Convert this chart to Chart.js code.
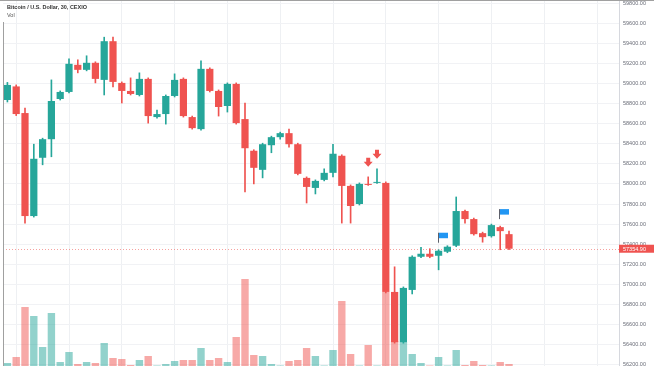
<!DOCTYPE html>
<html><head><meta charset="utf-8">
<script src="https://cdn.jsdelivr.net/npm/chart.js@4.4.0/dist/chart.umd.min.js"></script>
<style>html,body{margin:0;padding:0;background:#fff;}#wrap{width:654px;height:366px;position:relative;}</style>
</head><body><div id="wrap"><canvas id="c"></canvas></div>
<script>
const chartTitle = 'Bitcoin / U.S. Dollar, 30, CEXIO';
const volLabel = 'Vol';
const categories = ['08:30','09:00','09:30','10:00','10:30','11:00','11:30','12:00','12:30','13:00','13:30','14:00','14:30','15:00','15:30','16:00','16:30','17:00','17:30','18:00','18:30','19:00','19:30','20:00','20:30','21:00','21:30','22:00','22:30','23:00','23:30','00:00','00:30','01:00','01:30','02:00','02:30','03:00','03:30','04:00','04:30','05:00','05:30','06:00','06:30','07:00','07:30','08:00','08:30','09:00','09:30','10:00','10:30','11:00','11:30','12:00','12:30','13:00','13:30','14:00','14:30','15:00','15:30','16:00','16:30','17:00','17:30','18:00','18:30','19:00'];
const opens  = [58835,58970,58705,57680,58260,58445,58845,58915,59185,59135,59205,59035,59420,59005,58925,58885,59045,58665,58695,58875,59045,58665,58545,59145,58925,58775,58995,58645,58330,58140,58385,58465,58505,58395,58060,57960,58040,58110,58280,57980,57800,58000,58010,58010,56925,56425,56945,57275,57305,57285,57325,57385,57730,57650,57510,57480,57570,57500];
const highs  = [59010,58985,58755,58395,58455,59035,58925,59245,59235,59275,59215,59460,59460,59015,59055,59105,59055,58735,58885,59095,59055,58675,59225,59155,58935,59005,59005,58805,58340,58405,58475,58515,58545,58405,58070,58040,58150,58395,58290,57990,58010,58070,58150,58020,57175,56975,57285,57370,57355,57345,57385,57870,57740,57660,57520,57600,57580,57530];
const lows   = [58815,58680,57610,57670,58190,58270,58835,58905,59105,59125,59005,58885,58965,58805,58885,58875,58605,58655,58595,58865,58665,58545,58535,58915,58675,58715,58595,57920,58000,58060,58310,58445,58365,58090,57810,57900,58030,58070,57610,57610,57790,57985,58005,56915,56415,56415,56905,57265,57265,57145,57315,57375,57610,57490,57420,57470,57345,57345];
const closes = [58985,58695,57680,58250,58445,58825,58915,59195,59135,59205,59045,59420,59015,58925,58895,59045,58675,58695,58875,59035,58675,58555,59145,58925,58765,58995,58605,58355,58160,58395,58465,58505,58395,58100,57970,58030,58110,58300,57980,57780,58000,57990,58020,56925,56425,56965,57275,57305,57275,57335,57375,57730,57650,57500,57470,57590,57530,57354.9];
const volumes = [12,36,236,200,76,212,16,56,8,16,12,92,32,28,4,24,40,2,8,20,24,24,72,24,32,16,116,348,44,40,8,2,20,24,72,40,2,64,260,48,2,84,2,296,100,96,48,12,2,36,2,64,4,20,4,2,16,8];
const priceTicks = [56200,56400,56600,56800,57000,57200,57400,57600,57800,58000,58200,58400,58600,58800,59000,59200,59400,59600,59800];
const sellSignals = [41,42];
const flagSignals = [49,56];

const UP='#26a69a', DOWN='#ef5350', UPV='rgba(38,166,154,0.5)', DOWNV='rgba(239,83,80,0.5)';
const nC = opens.length;
const isUp = categories.map((_,i)=> i<nC ? closes[i]>=opens[i] : true);
const wickData = categories.map((_,i)=> i<nC ? [lows[i], highs[i]] : null);
const bodyData = categories.map((_,i)=> i<nC ? [Math.min(opens[i],closes[i]), Math.max(opens[i],closes[i])] : null);
const volData = categories.map((_,i)=> i<nC ? volumes[i] : null);
const candleColors = isUp.map(u=>u?UP:DOWN);
const volColors = isUp.map(u=>u?UPV:DOWNV);
const lastClose = closes[nC-1];
const FONT = '"Liberation Sans", Arial, sans-serif';

const overlay = {
  id:'overlay',
  beforeDatasetsDraw(chart){
    const {ctx, chartArea:a, scales:{y}} = chart;
    const py = Math.round(y.getPixelForValue(lastClose))+0.5;
    ctx.save();
    ctx.strokeStyle='rgba(239,83,80,0.55)'; ctx.lineWidth=1; ctx.setLineDash([1,2]);
    ctx.beginPath(); ctx.moveTo(a.left,py); ctx.lineTo(a.right,py); ctx.stroke();
    ctx.restore();
  },
  afterDraw(chart){
    const {ctx, chartArea:a, scales:{x,y}, width} = chart;
    ctx.save();
    ctx.fillStyle = DOWN;
    sellSignals.forEach(i=>{
      const cx = x.getPixelForValue(i);
      const tip = y.getPixelForValue(highs[i]) - 10;
      ctx.beginPath();
      ctx.moveTo(cx, tip);
      ctx.lineTo(cx-4.5, tip-5);
      ctx.lineTo(cx-2, tip-5);
      ctx.lineTo(cx-2, tip-9);
      ctx.lineTo(cx+2, tip-9);
      ctx.lineTo(cx+2, tip-5);
      ctx.lineTo(cx+4.5, tip-5);
      ctx.closePath(); ctx.fill();
    });
    flagSignals.forEach(i=>{
      const cx = Math.round(x.getPixelForValue(i)) - 0.5;
      const yb = y.getPixelForValue(highs[i]) - 7;
      ctx.strokeStyle='#5d606b'; ctx.lineWidth=1;
      ctx.beginPath(); ctx.moveTo(cx, yb); ctx.lineTo(cx, yb-10); ctx.stroke();
      ctx.fillStyle='#2196f3';
      ctx.fillRect(cx+0.5, yb-10, 9, 5.5);
    });
    const py = y.getPixelForValue(lastClose);
    ctx.fillStyle = DOWN;
    ctx.fillRect(a.right, py-4, width-a.right, 8);
    ctx.fillStyle = '#fff';
    ctx.font = '5.5px ' + FONT;
    ctx.textBaseline='middle'; ctx.textAlign='left';
    ctx.fillText(lastClose.toFixed(2), a.right+4, py+0.5);
    ctx.strokeStyle='#a0a0a0'; ctx.lineWidth=1;
    ctx.beginPath(); ctx.moveTo(0,0.5); ctx.lineTo(width,0.5); ctx.stroke();
    ctx.beginPath(); ctx.moveTo(3.5,22); ctx.lineTo(3.5,chart.height); ctx.stroke();
    ctx.fillStyle='#333';
    ctx.font = 'bold 6px ' + FONT;
    ctx.fillText(chartTitle, 7, 7.5, 80);
    ctx.fillStyle='#555';
    ctx.font = '5.5px ' + FONT;
    ctx.fillText(volLabel, 7, 15.5);
    ctx.restore();
  }
};

new Chart(document.getElementById('c'), {
  type:'bar',
  data:{
    labels: categories,
    datasets:[
      {label:'Body', data: bodyData, backgroundColor: candleColors, borderWidth:0, grouped:false, barPercentage:0.82, categoryPercentage:1, order:1, yAxisID:'y', minBarLength:1},
      {label:'Wick', data: wickData, backgroundColor: candleColors, borderWidth:0, grouped:false, barThickness:1, order:2, yAxisID:'y'},
      {label:'Volume', data: volData, backgroundColor: volColors, borderWidth:0, grouped:false, barPercentage:0.84, categoryPercentage:1, order:3, yAxisID:'yVol'}
    ]
  },
  options:{
    responsive:true, maintainAspectRatio:false, animation:false,
    layout:{padding:{left:3, top:0, right:0, bottom:0}},
    plugins:{legend:{display:false}, tooltip:{enabled:false}},
    scales:{
      x:{type:'category', offset:true,
         grid:{offset:false, drawTicks:false, lineWidth:1,
               color: c => { const l = categories[c.index]; if(!l) return 'rgba(0,0,0,0)'; const [h,m]=l.split(':'); return (m==='00' && (+h)%3===0) ? '#eef0f3' : 'rgba(0,0,0,0)'; }},
         ticks:{display:false}, border:{display:false}},
      y:{position:'right', min:56188, max:59830,
         afterBuildTicks: s => { s.ticks = priceTicks.map(v=>({value:v})); },
         afterFit: s => { s.width = 35; s.paddingTop = 0; s.paddingBottom = 0; },
         ticks:{font:{size:5.5, family:FONT}, color:'#6a6d78', padding:4, callback: v => Number(v).toFixed(2)},
         grid:{color:'#f1f2f5', drawTicks:false},
         border:{color:'#d6d8de'}},
      yVol:{display:false, min:0, max:1464}
    }
  },
  plugins:[overlay]
});
</script></body></html>
